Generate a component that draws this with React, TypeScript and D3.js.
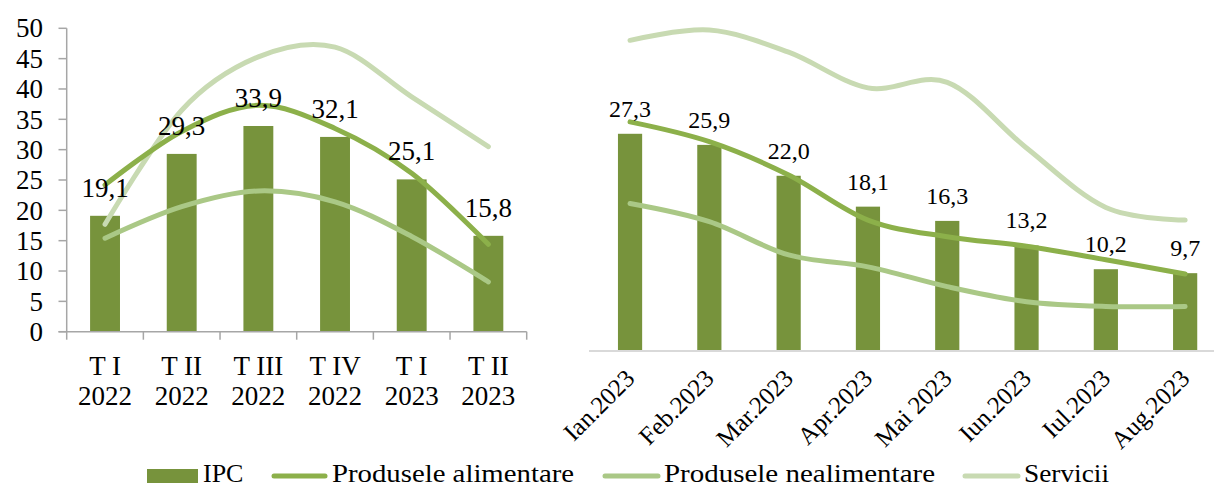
import React from "react";
import * as d3 from "d3";

// ---------- DATA ----------
const quarterLine1 = ["T I", "T II", "T III", "T IV", "T I", "T II"];
const quarterLine2 = ["2022", "2022", "2022", "2022", "2023", "2023"];
const ipcQ = [19.1, 29.3, 33.9, 32.1, 25.1, 15.8];
const alimQ = [24.2, 33.0, 37.3, 33.5, 26.1, 14.4];
const nealimQ = [15.4, 20.6, 23.2, 21.4, 15.7, 8.2];
const servQ = [17.7, 36.5, 45.3, 46.9, 38.7, 30.5];
const yTicksLeft = [0, 5, 10, 15, 20, 25, 30, 35, 40, 45, 50];

const months = ["Ian.2023", "Feb.2023", "Mar.2023", "Apr.2023", "Mai 2023", "Iun.2023", "Iul.2023", "Aug.2023"];
const ipcM = [27.3, 25.9, 22.0, 18.1, 16.3, 13.2, 10.2, 9.7];
const alimM = [28.8, 26.3, 22.1, 16.4, 14.3, 13.1, 11.4, 9.6];
const nealimM = [18.5, 16.2, 12.0, 10.5, 8.0, 6.1, 5.5, 5.5];
const servM = [39.1, 40.4, 37.6, 33.1, 33.8, 25.5, 18.0, 16.4];

const seriesNames = ["IPC", "Produsele alimentare", "Produsele nealimentare", "Servicii"];

// ---------- STYLE ----------
const C_BAR = "#77933C";
const C_ALIM = "#8CB04A";
const C_NEALIM = "#AAC886";
const C_SERV = "#C8DAB2";
const FONT = "'Liberation Serif', 'Times New Roman', serif";

const fmt = (v: number) => v.toFixed(1).replace(".", ",");

export default function App() {
  // Left panel scales
  const xL = d3.scaleBand<number>().domain(d3.range(6)).range([66.7, 526.7]).padding(0);
  const yL = d3.scaleLinear().domain([0, 50]).range([331.7, 28.3]);
  const barWL = xL.bandwidth() * 0.39;
  const cxL = (i: number) => (xL(i) as number) + xL.bandwidth() / 2;

  // Right panel scales
  const xR = d3.scaleBand<number>().domain(d3.range(8)).range([590.4, 1224.8]).padding(0);
  const yR = d3.scaleLinear().domain([0, 40]).range([350, 33.2]);
  const barWR = xR.bandwidth() * 0.305;
  const cxR = (i: number) => (xR(i) as number) + xR.bandwidth() / 2;

  const curve = d3.curveCardinal.tension(0);
  const lineL = d3.line<number>().x((_, i) => cxL(i)).y((d) => yL(d)).curve(curve);
  const lineR = d3.line<number>().x((_, i) => cxR(i)).y((d) => yR(d)).curve(curve);

  const axisColor = "#A6A6A6";
  const leftBoundaries = d3.range(7).map((i) => 66.7 + i * xL.bandwidth());

  return (
    <svg
      width={1214}
      height={487}
      style={{ position: "absolute", left: 0, top: 0, display: "block", background: "#fff" }}
      fontFamily={FONT}
    >
      {/* ---------- LEFT PANEL ---------- */}
      {ipcQ.map((v, i) => (
        <rect key={"bq" + i} x={cxL(i) - barWL / 2} y={yL(v)} width={barWL} height={yL(0) - yL(v)} fill={C_BAR} />
      ))}
      <line x1={66.7} x2={66.7} y1={yL(50)} y2={yL(0)} stroke={axisColor} strokeWidth={1.5} />
      {yTicksLeft.map((t) => (
        <g key={"yt" + t}>
          <line x1={58.5} x2={66.7} y1={yL(t)} y2={yL(t)} stroke={axisColor} strokeWidth={1.5} />
          <text x={43} y={yL(t)} dy="0.34em" textAnchor="end" fontSize={27} fill="#000">
            {t}
          </text>
        </g>
      ))}
      <line x1={58.5} x2={526.7} y1={yL(0)} y2={yL(0)} stroke={axisColor} strokeWidth={1.5} />
      {leftBoundaries.map((b, i) => (
        <line key={"xb" + i} x1={b} x2={b} y1={yL(0)} y2={yL(0) + 8} stroke={axisColor} strokeWidth={1.5} />
      ))}
      {quarterLine1.map((q, i) => (
        <text key={"xq" + i} x={cxL(i)} textAnchor="middle" fontSize={27} fill="#000">
          <tspan x={cxL(i)} y={375}>{q}</tspan>
          <tspan x={cxL(i)} y={405}>{quarterLine2[i]}</tspan>
        </text>
      ))}
      <path d={lineL(servQ) || ""} fill="none" stroke={C_SERV} strokeWidth={5} strokeLinecap="round" />
      <path d={lineL(nealimQ) || ""} fill="none" stroke={C_NEALIM} strokeWidth={5} strokeLinecap="round" />
      <path d={lineL(alimQ) || ""} fill="none" stroke={C_ALIM} strokeWidth={5} strokeLinecap="round" />
      {ipcQ.map((v, i) => (
        <text key={"lq" + i} x={cxL(i)} y={yL(v) - 19} textAnchor="middle" fontSize={27} fill="#000">
          {fmt(v)}
        </text>
      ))}

      {/* ---------- RIGHT PANEL ---------- */}
      {ipcM.map((v, i) => (
        <rect key={"bm" + i} x={cxR(i) - barWR / 2} y={yR(v)} width={barWR} height={yR(0) - yR(v)} fill={C_BAR} />
      ))}
      <line x1={589} x2={1214} y1={yR(0) + 1} y2={yR(0) + 1} stroke="#D9D9D9" strokeWidth={2} />
      {months.map((m, i) => (
        <text
          key={"xm" + i}
          transform={`translate(${cxR(i) + 6},${380}) rotate(-45)`}
          textAnchor="end"
          fontSize={25}
          fill="#000"
        >
          {m}
        </text>
      ))}
      <path d={lineR(servM) || ""} fill="none" stroke={C_SERV} strokeWidth={5} strokeLinecap="round" />
      <path d={lineR(nealimM) || ""} fill="none" stroke={C_NEALIM} strokeWidth={5} strokeLinecap="round" />
      <path d={lineR(alimM) || ""} fill="none" stroke={C_ALIM} strokeWidth={5} strokeLinecap="round" />
      {ipcM.map((v, i) => (
        <text key={"lm" + i} x={cxR(i)} y={yR(v) - 17} textAnchor="middle" fontSize={24} fill="#000">
          {fmt(v)}
        </text>
      ))}

      {/* ---------- LEGEND ---------- */}
      <rect x={147} y={469} width={51} height={14} fill={C_BAR} />
      <text x={203} y={482} fontSize={26} fill="#000">{seriesNames[0]}</text>
      <line x1={274} x2={325} y1={476} y2={476} stroke={C_ALIM} strokeWidth={5} strokeLinecap="round" />
      <text x={332} y={482} fontSize={26} fill="#000" textLength={242} lengthAdjust="spacingAndGlyphs">{seriesNames[1]}</text>
      <line x1={605} x2={658} y1={476} y2={476} stroke={C_NEALIM} strokeWidth={5} strokeLinecap="round" />
      <text x={664} y={482} fontSize={26} fill="#000" textLength={271} lengthAdjust="spacingAndGlyphs">{seriesNames[2]}</text>
      <line x1={965} x2={1018} y1={476} y2={476} stroke={C_SERV} strokeWidth={5} strokeLinecap="round" />
      <text x={1024} y={482} fontSize={26} fill="#000" textLength={85} lengthAdjust="spacingAndGlyphs">{seriesNames[3]}</text>
    </svg>
  );
}
